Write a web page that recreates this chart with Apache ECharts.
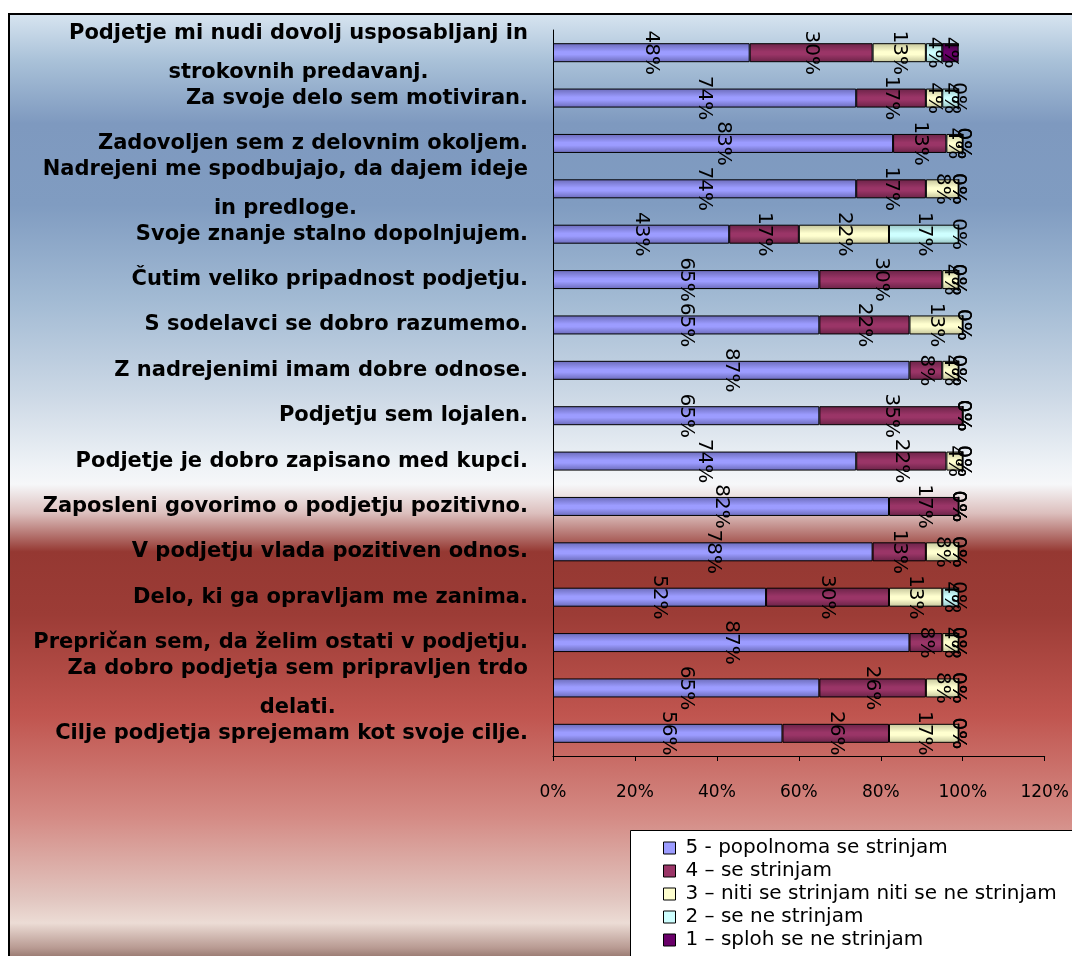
<!DOCTYPE html>
<html>
<head>
<meta charset="utf-8">
<script src="https://cdn.jsdelivr.net/npm/echarts@6/dist/echarts.min.js"></script>
<style>
  html, body { margin: 0; padding: 0; background: #fff; }
  #chart { width: 1072px; height: 956px; }
</style>
</head>
<body>
<div id="chart"></div>
<script>
// survey statements, top to bottom
const categories = [
  'Podjetje mi nudi dovolj usposabljanj in\nstrokovnih predavanj.',
  'Za svoje delo sem motiviran.',
  'Zadovoljen sem z delovnim okoljem.',
  'Nadrejeni me spodbujajo, da dajem ideje\nin predloge.',
  'Svoje znanje stalno dopolnjujem.',
  'Čutim veliko pripadnost podjetju.',
  'S sodelavci se dobro razumemo.',
  'Z nadrejenimi imam dobre odnose.',
  'Podjetju sem lojalen.',
  'Podjetje je dobro zapisano med kupci.',
  'Zaposleni govorimo o podjetju pozitivno.',
  'V podjetju vlada pozitiven odnos.',
  'Delo, ki ga opravljam me zanima.',
  'Prepričan sem, da želim ostati v podjetju.',
  'Za dobro podjetja sem pripravljen trdo\ndelati.',
  'Cilje podjetja sprejemam kot svoje cilje.'
]

const seriesNames = [
  '5 - popolnoma se strinjam',
  '4 – se strinjam',
  '3 – niti se strinjam niti se ne strinjam',
  '2 – se ne strinjam',
  '1 – sploh se ne strinjam'
]

// percentages per answer
const fullyAgree = [48, 74, 83, 74, 43, 65, 65, 87, 65, 74, 82, 78, 52, 87, 65, 56]
const agree      = [30, 17, 13, 17, 17, 30, 22, 8, 35, 22, 17, 13, 30, 8, 26, 26]
const neutral    = [13, 4, 4, 8, 22, 4, 13, 4, 0, 4, 0, 8, 13, 4, 8, 17]
const disagree   = [4, 4, 0, 0, 17, 0, 0, 0, 0, 0, 0, 0, 4, 0, 0, 0]
const stronglyDisagree = [4, 0, 0, 0, 0, 0, 0, 0, 0, 0, 0, 0, 0, 0, 0, 0]

const xTicks = [0, 20, 40, 60, 80, 100, 120]

const values = [fullyAgree, agree, neutral, disagree, stronglyDisagree]
const colors = [
  ['#6a6ab8', '#9c9cff'],
  ['#6a2347', '#9a3567'],
  ['#c4c49a', '#ffffcf'],
  ['#98c4c4', '#ceffff'],
  ['#3e003e', '#6a006a']
]

const shade = (edge, mid) => new echarts.graphic.LinearGradient(0, 0, 0, 1, [
  { offset: 0, color: edge },
  { offset: 0.45, color: mid },
  { offset: 0.6, color: mid },
  { offset: 1, color: edge }
])

const chart = echarts.init(document.getElementById('chart'))

const font = '"DejaVu Sans", Verdana, sans-serif'

const option = {
  backgroundColor: '#fff',
  animation: false,
  graphic: [
    {
      type: 'rect',
      z: -10,
      shape: { x: 9, y: 14, width: 1080, height: 960 },
      style: {
        fill: new echarts.graphic.LinearGradient(0, 0, 0, 1, [
          { offset: 0, color: '#d8e5f0' },
          { offset: 0.05, color: '#a9c1d8' },
          { offset: 0.115, color: '#7e99bf' },
          { offset: 0.2, color: '#809cc1' },
          { offset: 0.3, color: '#a3bbd4' },
          { offset: 0.4, color: '#cdd9e6' },
          { offset: 0.47, color: '#eef2f6' },
          { offset: 0.49, color: '#f6f7f9' },
          { offset: 0.52, color: '#dcbfbd' },
          { offset: 0.56, color: '#953832' },
          { offset: 0.625, color: '#9c3c36' },
          { offset: 0.73, color: '#c0554f' },
          { offset: 0.835, color: '#d48a84' },
          { offset: 0.92, color: '#e1c5bf' },
          { offset: 0.946, color: '#ecdcd5' },
          { offset: 0.972, color: '#b89a92' },
          { offset: 1, color: '#5c3a30' }
        ]),
        stroke: '#000',
        lineWidth: 2
      }
    },
    {
      type: 'rect',
      z: 5,
      shape: { x: 630.5, y: 830.5, width: 460, height: 140 },
      style: { fill: '#fff', stroke: '#000', lineWidth: 1 }
    }
  ],
  grid: {
    left: 553,
    right: 26,
    top: 30,
    bottom: 200,
    containLabel: false
  },
  legend: {
    orient: 'vertical',
    left: 663,
    top: 838,
    height: 118,
    z: 10,
    icon: 'rect',
    itemWidth: 12,
    itemHeight: 12,
    itemGap: 3,
    padding: 0,
    textStyle: { fontFamily: font, fontSize: 20, lineHeight: 20, padding: [0, 0, 0, 5], color: '#000' },
    data: seriesNames.map((n, i) => ({
      name: n,
      itemStyle: { color: colors[i][1], borderColor: '#000', borderWidth: 1 }
    }))
  },
  xAxis: {
    type: 'value',
    min: 0,
    max: 120,
    interval: 20,
    axisLine: { show: true, lineStyle: { color: '#000', width: 1 } },
    axisTick: { show: true, length: 5, lineStyle: { color: '#000' } },
    splitLine: { show: false },
    axisLabel: {
      margin: 28,
      fontFamily: font,
      fontSize: 17,
      color: '#000',
      formatter: v => (xTicks.includes(v) ? v + '%' : '')
    }
  },
  yAxis: {
    type: 'category',
    inverse: true,
    data: categories,
    axisLine: { show: true, lineStyle: { color: '#000', width: 1 } },
    axisTick: { show: false },
    axisLabel: {
      margin: 25,
      align: 'right',
      fontFamily: font,
      fontWeight: 'bold',
      fontSize: 21,
      color: '#000',
      formatter: v => {
        if (v.indexOf('\n') < 0) return v
        return v.split('\n').map(l => '{c|' + l + '}').join('\n')
      },
      rich: {
        c: {
          align: 'center',
          fontFamily: font,
          fontWeight: 'bold',
          fontSize: 21,
          lineHeight: 39,
          color: '#000'
        }
      }
    }
  },
  series: values.map((vals, i) => ({
    name: seriesNames[i],
    type: 'bar',
    stack: 'total',
    barWidth: 19,
    data: vals,
    itemStyle: {
      color: shade(colors[i][0], colors[i][1]),
      borderColor: '#000',
      borderWidth: 1
    },
    label: {
      show: true,
      position: 'inside',
      rotate: -90,
      align: 'center',
      verticalAlign: 'middle',
      fontFamily: font,
      fontSize: 20,
      color: '#000',
      formatter: p => p.value + '%'
    }
  }))
}

chart.setOption(option)
</script>
</body>
</html>
